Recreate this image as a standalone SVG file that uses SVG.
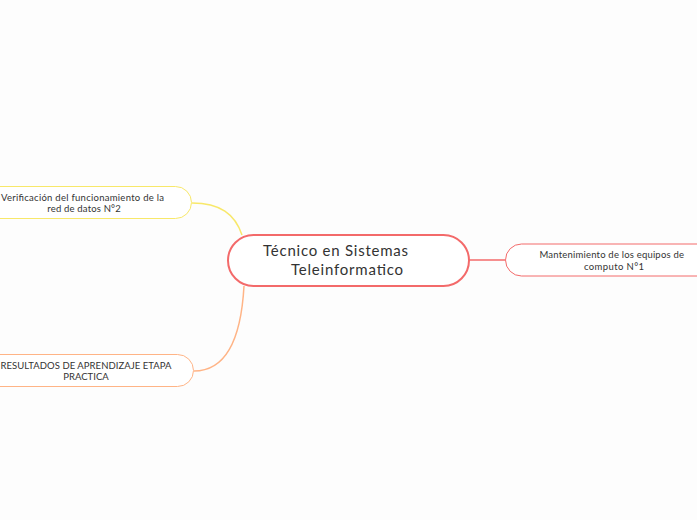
<svg xmlns="http://www.w3.org/2000/svg" width="697" height="520" viewBox="0 0 697 520">
<style>
.t{font-family:"Lato","Noto Sans",sans-serif;fill:#333;text-anchor:middle}
.s{font-size:9.5px}
.m{font-size:15px;text-anchor:start}
.c{fill:none;stroke-width:1.5}
</style>
<rect width="697" height="520" fill="#fdfdfd"/>
<g id="connectors">
<path class="c" stroke="#f8e86a" d="M192,203 C220,203 235,214 242,235"/>
<path class="c" stroke="#ffb486" d="M244,286 C241,340 226,371 194,371"/>
<path class="c" stroke="#f36a6a" d="M469,260 L505,260"/>
</g>
<g id="center">
<rect x="228" y="235" width="241" height="51" rx="25.5" fill="#fff" stroke="#f36a6a" stroke-width="2"/>
<text class="t m" x="263" y="256" textLength="145" lengthAdjust="spacing">Técnico en Sistemas</text>
<text class="t m" x="291" y="275" textLength="112" lengthAdjust="spacing">Teleinformatico</text>
</g>
<g id="verificacion">
<rect x="-20" y="186.5" width="211.5" height="32" rx="16" fill="#fff" stroke="#f8e86a" stroke-width="1"/>
<text class="t s" x="82.5" y="200.5" textLength="163" lengthAdjust="spacing">Verificación del funcionamiento de la</text>
<text class="t s" x="84" y="212" textLength="73.5" lengthAdjust="spacing">red de datos N°2</text>
</g>
<g id="resultados">
<rect x="-20" y="354.5" width="213.5" height="32" rx="16" fill="#fff" stroke="#ffb486" stroke-width="1"/>
<text class="t s" x="86" y="368.5" textLength="171" lengthAdjust="spacing">RESULTADOS DE APRENDIZAJE ETAPA</text>
<text class="t s" x="86" y="380" textLength="45.5" lengthAdjust="spacing">PRACTICA</text>
</g>
<g id="mantenimiento">
<rect x="505.5" y="244" width="220" height="32" rx="16" fill="#fff" stroke="#f36a6a" stroke-width="1"/>
<text class="t s" x="611.7" y="258" textLength="144.5" lengthAdjust="spacing">Mantenimiento de los equipos de</text>
<text class="t s" x="614" y="269.5" textLength="60" lengthAdjust="spacing">computo N°1</text>
</g>
</svg>
